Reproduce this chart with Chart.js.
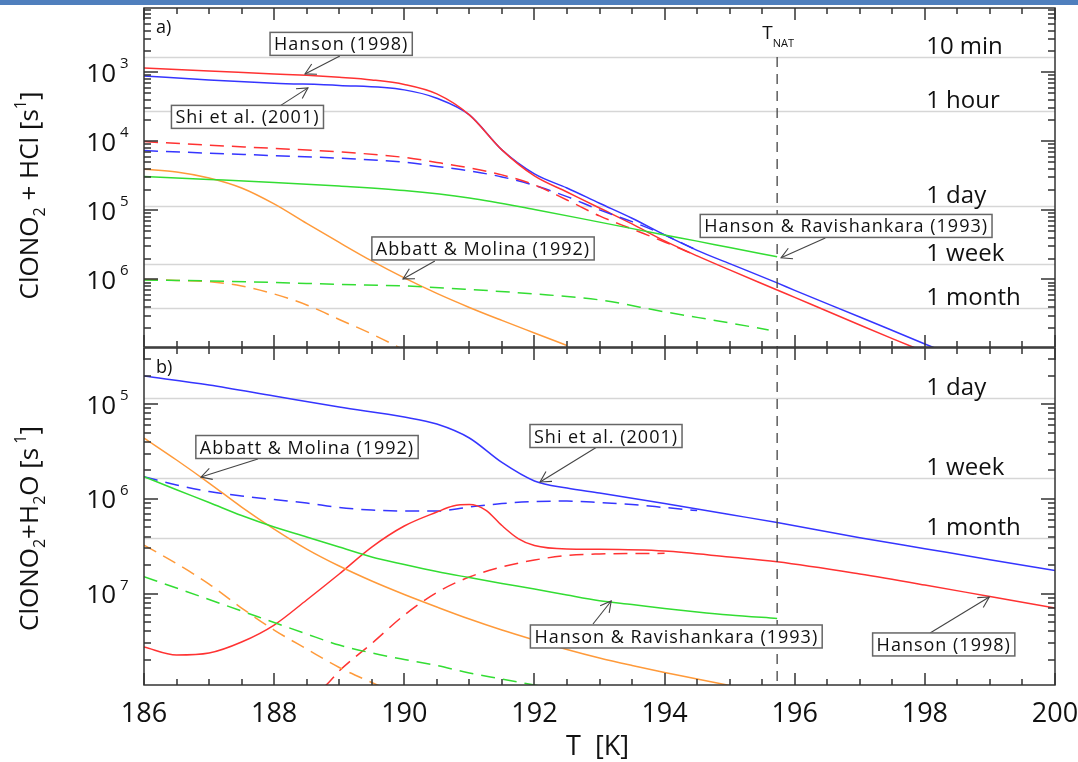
<!DOCTYPE html>
<html>
<head>
<meta charset="utf-8">
<script src="https://cdn.jsdelivr.net/npm/chart.js@4.4.1/dist/chart.umd.min.js"></script>
<style>
  html, body { margin: 0; padding: 0; background: #fff; }
  #wrap { position: relative; width: 1078px; height: 762px; overflow: hidden; }
  #band { position: absolute; left: 0; top: 0; width: 1078px; height: 5px; background: #4f7fbd; }
  canvas { position: absolute; left: 0; }
  #panelA { top: 0; }
  #panelB { top: 345px; }
</style>
</head>
<body>
<div id="wrap">
  <canvas id="panelA" width="1078" height="350"></canvas>
  <canvas id="panelB" width="1078" height="417"></canvas>
  <div id="band"></div>
</div>
<script>
// All rates as log10(k / s^-1)

// ---- panel a) ClONO2 + HCl ----
const aHansonT = [186, 187, 188, 188.5, 189, 189.5, 190, 190.5, 191, 191.5, 192, 192.5, 193, 193.5, 194, 194.5, 195, 195.73, 196, 197, 197.5, 198];
const aHansonExp = [-2.938, -2.981, -3.025, -3.046, -3.075, -3.112, -3.177, -3.314, -3.618, -4.125, -4.502, -4.734, -4.966, -5.197, -5.443, -5.66, -5.863, -6.153, -6.261, -6.66, -6.857, -7.051];

const aShiT = [186, 187, 188, 189, 190, 190.5, 191, 191.5, 192, 192.5, 193, 193.5, 194, 194.5, 195, 195.73, 196, 197, 198, 198.5];
const aShiExp = [-3.054, -3.112, -3.159, -3.191, -3.256, -3.377, -3.618, -4.125, -4.473, -4.676, -4.897, -5.114, -5.356, -5.579, -5.772, -6.051, -6.159, -6.544, -6.935, -7.123];

const aDashT = [186, 187, 188, 189, 190, 190.5, 191, 191.5, 192, 192.5, 193, 193.5, 194, 194.5];
const aHansonDashExp = [-4.005, -4.057, -4.104, -4.154, -4.234, -4.306, -4.386, -4.487, -4.632, -4.85, -5.081, -5.27, -5.458, -5.66];
const aShiDashExp = [-4.135, -4.173, -4.208, -4.245, -4.303, -4.364, -4.429, -4.516, -4.639, -4.802, -4.994, -5.164, -5.356, -5.579];

const aHRT = [186, 187, 188, 189, 190, 191, 192, 193, 194, 194.5, 195, 195.73];
const aHRExp = [-4.512, -4.553, -4.596, -4.647, -4.712, -4.82, -4.987, -5.171, -5.356, -5.446, -5.539, -5.671];

const aHRDashT = [186, 187, 188, 189, 190, 191, 192, 193, 194, 195, 195.6];
const aHRDashExp = [-6.008, -6.022, -6.044, -6.073, -6.095, -6.146, -6.21, -6.297, -6.47, -6.63, -6.732];

const aAMT = [186, 186.5, 187, 187.5, 188, 188.5, 189, 189.5, 190, 190.5, 191, 191.5, 192, 192.5];
const aAMExp = [-4.405, -4.444, -4.531, -4.676, -4.907, -5.19, -5.465, -5.733, -5.979, -6.203, -6.406, -6.594, -6.776, -6.957];

const aAMDashT = [186, 186.5, 187, 187.5, 188, 188.5, 189, 189.5, 190];
const aAMDashExp = [-6.001, -6.015, -6.033, -6.095, -6.211, -6.37, -6.58, -6.79, -7.022];

// ---- panel b) ClONO2 + H2O ----
const bShiT = [186, 187, 188, 189, 190, 190.5, 191, 191.5, 192, 192.5, 193, 194, 195, 195.73, 197, 198, 199, 200];
const bShiExp = [-4.705, -4.8, -4.916, -5.032, -5.137, -5.211, -5.358, -5.616, -5.811, -5.886, -5.938, -6.049, -6.165, -6.249, -6.409, -6.525, -6.641, -6.756];

const bShiDashT = [186, 186.5, 187, 187.5, 188, 188.5, 189, 189.5, 190, 190.5, 191, 191.5, 192, 192.5, 193, 193.5, 194, 194.5];
const bShiDashExp = [-5.766, -5.854, -5.923, -5.97, -6.007, -6.044, -6.091, -6.118, -6.128, -6.128, -6.086, -6.049, -6.028, -6.023, -6.038, -6.06, -6.091, -6.123];

const bHansonT = [186, 186.5, 187, 187.5, 188, 188.5, 189, 189.5, 190, 190.5, 190.75, 191, 191.25, 191.5, 191.75, 192, 192.5, 193, 194, 195, 195.73, 197, 198, 199, 200];
const bHansonExp = [-7.562, -7.646, -7.625, -7.509, -7.33, -7.066, -6.792, -6.508, -6.286, -6.139, -6.075, -6.06, -6.118, -6.281, -6.418, -6.492, -6.529, -6.532, -6.55, -6.613, -6.663, -6.792, -6.908, -7.03, -7.151];

const bHansonDashT = [188.5, 188.8, 189, 189.5, 190, 190.5, 191, 191.5, 192, 192.5, 193, 194];
const bHansonDashExp = [-8.121, -7.963, -7.815, -7.525, -7.225, -6.987, -6.824, -6.718, -6.645, -6.597, -6.581, -6.574];

const bHRT = [186, 186.5, 187, 187.5, 188, 188.5, 189, 189.5, 190, 190.5, 191, 191.5, 192, 192.5, 193, 193.5, 194, 194.5, 195, 195.73];
const bHRExp = [-5.766, -5.904, -6.038, -6.176, -6.297, -6.402, -6.508, -6.613, -6.692, -6.766, -6.83, -6.892, -6.95, -7.014, -7.074, -7.114, -7.156, -7.193, -7.225, -7.261];

const bHRDashT = [186, 186.5, 187, 187.5, 188, 188.5, 189, 189.5, 190, 190.5, 191, 191.5, 192, 192.5];
const bHRDashExp = [-6.821, -6.94, -7.061, -7.182, -7.304, -7.425, -7.541, -7.625, -7.694, -7.757, -7.836, -7.899, -7.963, -8.026];

const bAMT = [186, 186.5, 187, 187.5, 188, 188.5, 189, 189.5, 190, 190.5, 191, 191.5, 192, 192.5, 193, 193.5, 194, 194.5, 195, 195.5];
const bAMExp = [-5.358, -5.59, -5.833, -6.086, -6.318, -6.529, -6.708, -6.866, -7.008, -7.14, -7.267, -7.383, -7.488, -7.588, -7.678, -7.757, -7.831, -7.899, -7.968, -8.036];

const bAMDashT = [186, 186.5, 187, 187.5, 188, 188.5, 189, 189.5, 190];
const bAMDashExp = [-6.487, -6.682, -6.898, -7.151, -7.383, -7.583, -7.778, -7.936, -8.089];

// time scales marked by grey lines (seconds)
const timeSec = [600, 3600, 86400, 604800, 2592000];
const timeNames = ["10 min", "1 hour", "1 day", "1 week", "1 month"];

const xTicks = [186, 188, 190, 192, 194, 196, 198, 200];
const tNat = 195.73;

const RED = "#ff3232";
const BLUE = "#3535ff";
const GREEN = "#33dd33";
const ORANGE = "#ff9a3a";
const FONT = '"Open Sans", "DejaVu Sans", sans-serif';

// labels with arrows, positions in (T, log10 k)
const notesA = [
  { text: "Hanson (1998)", at: [189.03, -2.59], from: [189.01, -2.764], to: [188.474, -3.025] },
  { text: "Shi et al. (2001)", at: [187.59, -3.647], from: [188.09, -3.488], to: [188.52, -3.227] },
  { text: "Abbatt & Molina (1992)", at: [191.21, -5.552], from: [190.47, -5.733], to: [189.98, -5.993] },
  { text: "Hanson & Ravishankara (1993)", at: [196.79, -5.226], from: [196.47, -5.399], to: [195.79, -5.688] },
];
const notesB = [
  { text: "Abbatt & Molina (1992)", at: [188.505, -5.453], from: [187.75, -5.58], to: [186.876, -5.77] },
  { text: "Shi et al. (2001)", at: [193.1, -5.337], from: [192.96, -5.453], to: [192.086, -5.822] },
  { text: "Hanson & Ravishankara (1993)", at: [194.18, -7.451], from: [192.9, -7.319], to: [193.18, -7.077] },
  { text: "Hanson (1998)", at: [198.29, -7.535], from: [198.08, -7.414], to: [198.99, -7.035] },
];

function line(T, E, color, dashed) {
  return {
    data: T.map((t, i) => ({ x: t, y: Math.pow(10, E[i]) })),
    borderColor: color,
    borderWidth: 1.5,
    borderDash: dashed ? [14, 8] : [],
    pointRadius: 0,
    cubicInterpolationMode: "monotone",
    fill: false,
  };
}

function richText(ctx, parts, x, y, align) {
  let total = 0;
  parts.forEach((p) => {
    ctx.font = p[1] + "px " + FONT;
    total += ctx.measureText(p[0]).width;
  });
  let cx = align === "center" ? x - total / 2 : align === "right" ? x - total : x;
  ctx.textAlign = "left";
  parts.forEach((p) => {
    ctx.font = p[1] + "px " + FONT;
    ctx.fillText(p[0], cx, y + p[2]);
    cx += ctx.measureText(p[0]).width;
  });
}

function arrow(ctx, x1, y1, x2, y2) {
  ctx.beginPath();
  ctx.moveTo(x1, y1);
  ctx.lineTo(x2, y2);
  ctx.stroke();
  const ang = Math.atan2(y2 - y1, x2 - x1);
  const L = 12;
  ctx.beginPath();
  ctx.moveTo(x2 - L * Math.cos(ang - 0.5), y2 - L * Math.sin(ang - 0.5));
  ctx.lineTo(x2, y2);
  ctx.lineTo(x2 - L * Math.cos(ang + 0.5), y2 - L * Math.sin(ang + 0.5));
  ctx.stroke();
}

const panelDeco = {
  id: "panelDeco",
  beforeDatasetsDraw(chart, args, opts) {
    const { ctx, chartArea: a, scales } = chart;
    const y = scales.y;
    ctx.save();
    ctx.strokeStyle = "#d6d6d6";
    ctx.lineWidth = 1.5;
    timeSec.forEach((s) => {
      const k = 1 / s;
      if (k < y.min || k > y.max) return;
      const py = Math.round(y.getPixelForValue(k)) + 0.5;
      ctx.beginPath();
      ctx.moveTo(a.left, py);
      ctx.lineTo(a.right, py);
      ctx.stroke();
    });
    ctx.restore();
  },
  afterDatasetsDraw(chart, args, opts) {
    const { ctx, chartArea: a, scales } = chart;
    const x = scales.x, y = scales.y;
    ctx.save();

    // T_NAT dashed line
    const nx = x.getPixelForValue(tNat);
    ctx.strokeStyle = "#444";
    ctx.lineWidth = 1.3;
    ctx.setLineDash([10, 7]);
    ctx.beginPath();
    ctx.moveTo(nx, opts.panel === "a" ? a.top + 49 : a.top);
    ctx.lineTo(nx, a.bottom);
    ctx.stroke();
    ctx.setLineDash([]);

    // time labels
    ctx.fillStyle = "#111";
    ctx.font = "24px " + FONT;
    ctx.textAlign = "left";
    timeSec.forEach((s, i) => {
      const k = 1 / s;
      if (k < y.min || k > y.max) return;
      ctx.fillText(timeNames[i], x.getPixelForValue(198.02), y.getPixelForValue(k) - 3);
    });

    // frame
    ctx.strokeStyle = "#333";
    ctx.lineWidth = 1.5;
    ctx.strokeRect(a.left, a.top, a.right - a.left, a.bottom - a.top);

    // x ticks, inward, top and bottom
    ctx.fillStyle = "#333";
    for (let i = 0; i <= 28; i++) {
      const t = 186 + i * 0.5;
      const px = Math.round(x.getPixelForValue(t));
      const len = i % 4 === 0 ? 12 : 6;
      ctx.fillRect(px - 0.75, a.bottom - len, 1.5, len);
      ctx.fillRect(px - 0.75, a.top, 1.5, len);
    }

    // y log ticks, inward, left and right
    const n0 = Math.floor(Math.log10(y.min));
    const n1 = Math.ceil(Math.log10(y.max));
    for (let n = n0; n <= n1; n++) {
      for (let m = 1; m <= 9; m++) {
        const v = m * Math.pow(10, n);
        if (v < y.min || v > y.max) continue;
        const py = Math.round(y.getPixelForValue(v));
        const len = m === 1 ? 14 : 7;
        ctx.fillRect(a.left, py - 0.75, len, 1.5);
        ctx.fillRect(a.right - len, py - 0.75, len, 1.5);
      }
    }

    // y tick labels: 10 with raised exponent digit
    ctx.fillStyle = "#111";
    opts.decades.forEach((d) => {
      const py = y.getPixelForValue(Math.pow(10, -d));
      ctx.font = "26px " + FONT;
      ctx.textAlign = "right";
      ctx.fillText("10", 116, py + 9.5);
      ctx.font = "15px " + FONT;
      ctx.textAlign = "left";
      ctx.fillText(String(d), 120, py - 4);
    });

    // panel letter
    ctx.font = "18px " + FONT;
    ctx.textAlign = "left";
    ctx.fillText(opts.panel + ")", a.left + 12, a.top + 25);

    // y axis title
    ctx.save();
    ctx.translate(38, (a.top + a.bottom) / 2 + (opts.panel === "a" ? 18 : 12));
    ctx.rotate(-Math.PI / 2);
    richText(ctx, opts.title, 0, 0, "center");
    ctx.restore();

    // T_NAT label
    if (opts.panel === "a") {
      richText(ctx, [["T", 19, 0], ["NAT", 11, 8]], nx + 1, a.top + 31, "center");
    }

    // bottom axis labels
    if (opts.panel === "b") {
      ctx.font = "27px " + FONT;
      ctx.textAlign = "center";
      xTicks.forEach((t) => ctx.fillText(String(t), x.getPixelForValue(t), a.bottom + 37));
      richText(ctx, [["T  [K]", 27, 0]], x.getPixelForValue(192.97), a.bottom + 70, "center");
    }

    // annotations
    ctx.font = "18px " + FONT;
    ctx.letterSpacing = "1px";
    opts.notes.forEach((nt) => {
      const cx = x.getPixelForValue(nt.at[0]);
      const cy = y.getPixelForValue(Math.pow(10, nt.at[1]));
      const w = ctx.measureText(nt.text).width + 8;
      const h = 23;
      ctx.strokeStyle = "#444";
      ctx.lineWidth = 1.1;
      arrow(ctx,
        x.getPixelForValue(nt.from[0]), y.getPixelForValue(Math.pow(10, nt.from[1])),
        x.getPixelForValue(nt.to[0]), y.getPixelForValue(Math.pow(10, nt.to[1])));
      ctx.fillStyle = "#fff";
      ctx.fillRect(cx - w / 2, cy - h / 2, w, h);
      ctx.strokeStyle = "#666";
      ctx.lineWidth = 1.5;
      ctx.strokeRect(cx - w / 2, cy - h / 2, w, h);
      ctx.fillStyle = "#111";
      ctx.textAlign = "center";
      ctx.fillText(nt.text, cx, cy + 6.5);
    });
    ctx.letterSpacing = "0px";
    ctx.restore();
  },
};

function makePanel(id, datasets, yMin, yMax, padding, deco) {
  return new Chart(document.getElementById(id), {
    type: "line",
    data: { datasets: datasets },
    plugins: [panelDeco],
    options: {
      responsive: false,
      animation: false,
      layout: { padding: padding },
      plugins: { legend: { display: false }, tooltip: { enabled: false }, panelDeco: deco },
      scales: {
        x: { type: "linear", min: 186, max: 200, display: false },
        y: { type: "logarithmic", min: yMin, max: yMax, display: false },
      },
    },
  });
}

makePanel("panelA", [
  line(aHRT, aHRExp, GREEN, false),
  line(aHRDashT, aHRDashExp, GREEN, true),
  line(aAMT, aAMExp, ORANGE, false),
  line(aAMDashT, aAMDashExp, ORANGE, true),
  line(aDashT, aHansonDashExp, RED, true),
  line(aDashT, aShiDashExp, BLUE, true),
  line(aHansonT, aHansonExp, RED, false),
  line(aShiT, aShiExp, BLUE, false),
], 1.05e-7, 8.5e-3, { left: 144, right: 23, top: 8, bottom: 3 }, {
  panel: "a",
  decades: [3, 4, 5, 6],
  notes: notesA,
  title: [["ClONO", 26, 0], ["2", 16, 7], [" + HCl [s", 26, 0], ["1", 16, -12], ["]", 26, 0]],
});

makePanel("panelB", [
  line(bHRT, bHRExp, GREEN, false),
  line(bHRDashT, bHRDashExp, GREEN, true),
  line(bAMT, bAMExp, ORANGE, false),
  line(bAMDashT, bAMDashExp, ORANGE, true),
  line(bHansonDashT, bHansonDashExp, RED, true),
  line(bHansonT, bHansonExp, RED, false),
  line(bShiDashT, bShiDashExp, BLUE, true),
  line(bShiT, bShiExp, BLUE, false),
], 1.09e-8, 3.9e-5, { left: 144, right: 23, top: 3, bottom: 77 }, {
  panel: "b",
  decades: [5, 6, 7],
  notes: notesB,
  title: [["ClONO", 26, 0], ["2", 16, 7], ["+H", 26, 0], ["2", 16, 7], ["O [s", 26, 0], [" 1", 16, -12], ["]", 26, 0]],
});
</script>
</body>
</html>
